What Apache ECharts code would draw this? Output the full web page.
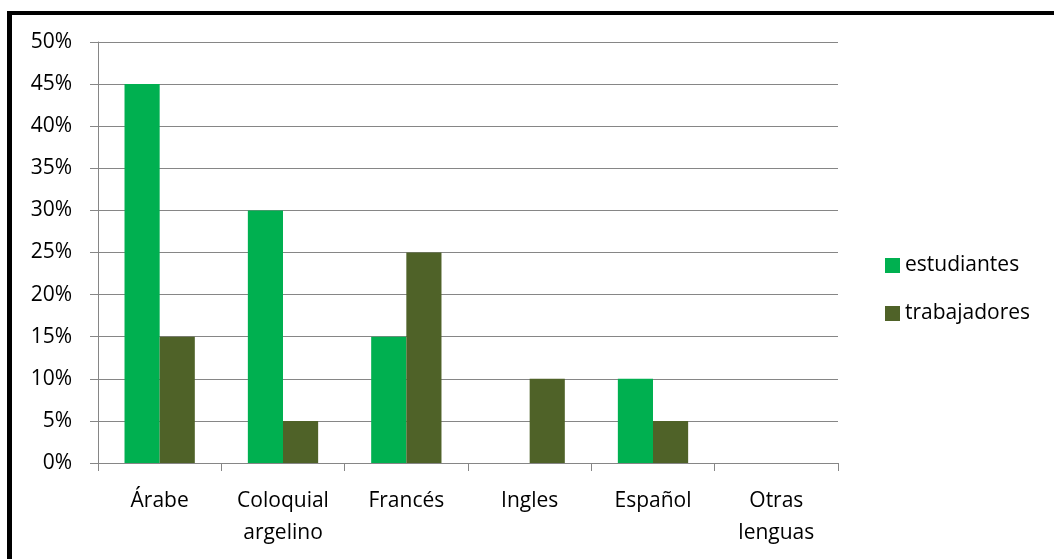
<!DOCTYPE html>
<html>
<head>
<meta charset="utf-8">
<script src="https://cdn.jsdelivr.net/npm/echarts@6/dist/echarts.min.js"></script>
<style>
  html, body { margin: 0; padding: 0; overflow: hidden; background: #fff; }
  #frame { position: absolute; left: 7px; top: 11px; width: 1200px; height: 700px;
           border-left: 5px solid #000; border-top: 4px solid #000; }
  #chart { position: absolute; left: 0; top: 0; width: 1054px; height: 559px; }
</style>
</head>
<body>
<div id="frame"></div>
<div id="chart"></div>
<script>
// categorias y valores (%)
const categories = ['Árabe', 'Coloquial\nargelino', 'Francés', 'Ingles', 'Español', 'Otras\nlenguas'];
const estudiantes = [45, 30, 15, 0, 10, 0];
const trabajadores = [15, 5, 25, 10, 5, 0];

const chart = echarts.init(document.getElementById('chart'));
const font = '"Open Sans", Lato, sans-serif';

const option = {
  animation: false,
  textStyle: { fontFamily: font },
  legend: {
    orient: 'vertical',
    left: 880,
    top: 250,
    itemWidth: 15,
    itemHeight: 15,
    itemGap: 27,
    icon: 'rect',
    textStyle: { fontSize: 21, color: '#000', fontFamily: font },
    data: ['estudiantes', 'trabajadores']
  },
  grid: { left: 98, right: 216, top: 42, bottom: 96 },
  xAxis: {
    type: 'category',
    data: categories,
    axisLine: { lineStyle: { color: '#868686', width: 1 } },
    axisTick: { show: true, length: 8, lineStyle: { color: '#868686' } },
    axisLabel: { color: '#000', fontSize: 21, margin: 22, lineHeight: 32, fontFamily: font, interval: 0 }
  },
  yAxis: {
    type: 'value',
    min: 0,
    max: 50,
    interval: 5,
    axisLine: { show: true, lineStyle: { color: '#868686' } },
    axisTick: { show: true, length: 8, lineStyle: { color: '#868686' } },
    splitLine: { lineStyle: { color: '#868686', width: 1 } },
    axisLabel: { color: '#000', fontSize: 21, margin: 26, fontFamily: font, formatter: '{value}%' }
  },
  series: [
    {
      name: 'estudiantes',
      type: 'bar',
      data: estudiantes,
      barGap: '0%',
      barCategoryGap: '43%',
      itemStyle: { color: '#00B050' }
    },
    {
      name: 'trabajadores',
      type: 'bar',
      data: trabajadores,
      itemStyle: { color: '#4F6228' }
    }
  ]
};

chart.setOption(option);
</script>
</body>
</html>
